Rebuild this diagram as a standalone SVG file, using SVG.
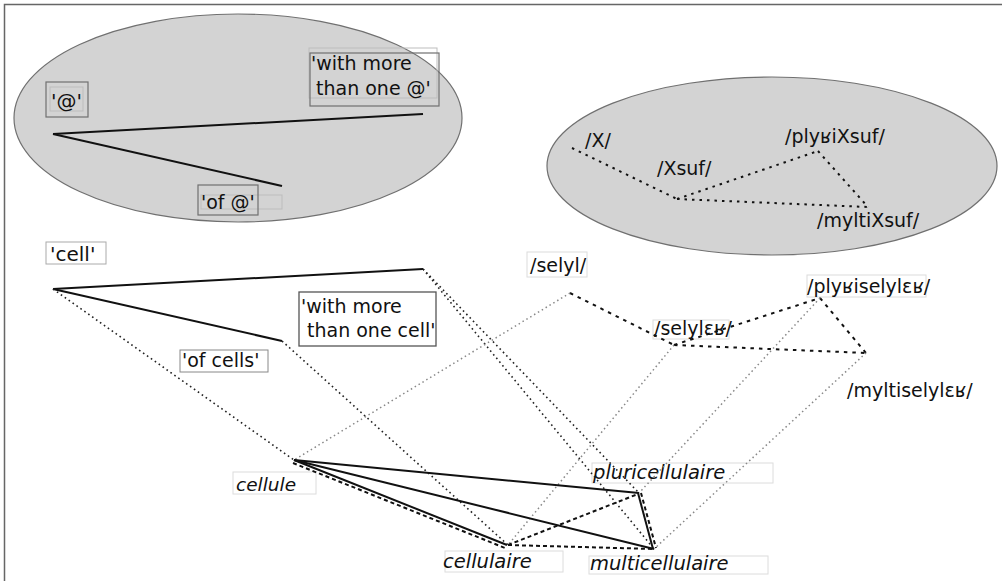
<svg xmlns="http://www.w3.org/2000/svg" width="1002" height="581" viewBox="0 0 1002 581">
<style>
text{font-family:"DejaVu Sans","Liberation Sans",sans-serif;font-size:19px;fill:#111}
.it{font-style:italic;font-size:19.5px}
.ell{fill:#d3d3d3;stroke:#707070;stroke-width:1.2}
.bd{fill:none;stroke:#707070;stroke-width:1.2}
.bl{fill:none;stroke:#bdbdbd;stroke-width:1}
.bw{fill:#fff;stroke:#dcdcdc;stroke-width:1}
.sol{stroke:#111;stroke-width:2;fill:none}
.dsh{stroke:#111;stroke-width:2;fill:none;stroke-dasharray:4,3}
.phd{stroke:#111;stroke-width:2;fill:none;stroke-dasharray:3.5,5}
.dot{stroke:#222;stroke-width:1.6;fill:none;stroke-dasharray:1.6,3.2}
.gdot{stroke:#888;stroke-width:1.5;fill:none;stroke-dasharray:1.5,3}
.xd{stroke:#111;stroke-width:2;fill:none;stroke-dasharray:2.5,5}
</style>
<rect x="4.5" y="4.5" width="1100" height="700" fill="none" stroke="#666" stroke-width="1.5"/>
<g id="sense-ellipse"><ellipse class="ell" cx="238" cy="118" rx="224" ry="104"/></g>
<g id="form-ellipse"><ellipse class="ell" cx="772" cy="166" rx="225" ry="89"/></g>
<g id="n-at"><rect class="bd" x="46" y="82" width="42" height="35"/><rect class="bl" x="50" y="87" width="33" height="24"/><text x="51" y="108" style="font-size:20px">'@'</text></g>
<g id="n-more-at"><rect class="bl" x="309" y="48" width="128" height="50"/><rect class="bd" x="310" y="53" width="129" height="53"/><text x="311" y="70">'with more</text><text x="316" y="95">than one @'</text></g>
<g id="n-of-at"><rect class="bl" x="201" y="195" width="81" height="14"/><rect class="bd" x="198" y="185" width="60" height="30"/><text x="201" y="209">'of @'</text></g>
<g id="n-X"><text x="585" y="147">/X/</text></g>
<g id="n-Xsuf"><text x="657" y="175">/Xsuf/</text></g>
<g id="n-plyXsuf"><text x="785" y="143">/plyʁiXsuf/</text></g>
<g id="n-myltiXsuf"><text x="817" y="227">/myltiXsuf/</text></g>
<g id="n-cell"><rect x="46" y="242" width="60" height="22" fill="#fff" stroke="#aaa"/><text x="50" y="261" style="font-size:20px">'cell'</text></g>
<g id="n-more-cell"><rect x="299" y="292" width="137" height="54" fill="#fff" stroke="#555" stroke-width="1.3"/><text x="301" y="313">'with more</text><text x="307" y="337">than one cell'</text></g>
<g id="n-of-cells"><rect x="180" y="350" width="88" height="22" fill="#fff" stroke="#888"/><text x="182" y="367">'of cells'</text></g>
<g id="n-selyl"><rect class="bw" x="527" y="252" width="60" height="25"/><text x="530" y="272">/selyl/</text></g>
<g id="n-selyler"><rect class="bw" x="653" y="320" width="76" height="19"/><text x="654" y="335">/selylɛʁ/</text></g>
<g id="n-plyriselyler"><rect class="bw" x="807" y="275" width="119" height="22"/><text x="807" y="293">/plyʁiselylɛʁ/</text></g>
<g id="n-myltiselyler"><text x="847" y="397">/myltiselylɛʁ/</text></g>
<g id="n-cellule"><rect class="bw" x="233" y="472" width="83" height="22"/><text class="it" x="236" y="491" style="font-size:18.5px">cellule</text></g>
<g id="n-cellulaire"><rect class="bw" x="445" y="551" width="118" height="21"/><text class="it" x="443" y="568">cellulaire</text></g>
<g id="n-pluricellulaire"><rect class="bw" x="592" y="463" width="181" height="20"/><text class="it" x="593" y="479">pluricellulaire</text></g>
<g id="n-multicellulaire"><rect class="bw" x="589" y="556" width="179" height="18"/><text class="it" x="590" y="570">multicellulaire</text></g>
<g id="connectors">
<line class="sol" x1="53" y1="134" x2="423" y2="114"/>
<line class="sol" x1="53" y1="134" x2="282" y2="186"/>
<line class="xd" x1="572" y1="148" x2="677" y2="199"/>
<line class="xd" x1="677" y1="199" x2="818" y2="151"/>
<line class="xd" x1="677" y1="199" x2="868" y2="207"/>
<line class="xd" x1="818" y1="151" x2="868" y2="207"/>
<line class="sol" x1="53" y1="289" x2="423" y2="269"/>
<line class="sol" x1="53" y1="289" x2="282" y2="341"/>
<line class="dot" x1="53" y1="289" x2="294" y2="460"/>
<line class="dot" x1="282" y1="341" x2="508" y2="545"/>
<line class="dot" x1="423" y1="269" x2="639" y2="493"/>
<line class="dot" x1="423" y1="269" x2="654" y2="549"/>
<line class="phd" x1="570" y1="293" x2="674" y2="345"/>
<line class="phd" x1="674" y1="345" x2="820" y2="298"/>
<line class="phd" x1="674" y1="345" x2="866" y2="353"/>
<line class="phd" x1="820" y1="298" x2="866" y2="353"/>
<line class="gdot" x1="570" y1="293" x2="294" y2="460"/>
<line class="gdot" x1="674" y1="345" x2="508" y2="545"/>
<line class="gdot" x1="820" y1="298" x2="639" y2="493"/>
<line class="gdot" x1="866" y1="353" x2="654" y2="549"/>
<line class="sol" x1="294" y1="460" x2="507" y2="545"/>
<line class="sol" x1="294" y1="460" x2="639" y2="493"/>
<line class="sol" x1="294" y1="460" x2="654" y2="549"/>
<line class="sol" x1="638" y1="493" x2="653" y2="549"/>
<line class="dsh" x1="293" y1="463" x2="505" y2="548"/>
<line class="dsh" x1="508" y1="545" x2="638" y2="494"/>
<line class="dsh" x1="508" y1="545" x2="654" y2="549"/>
<line class="dsh" x1="641" y1="493" x2="656" y2="548"/>
</g>
</svg>
